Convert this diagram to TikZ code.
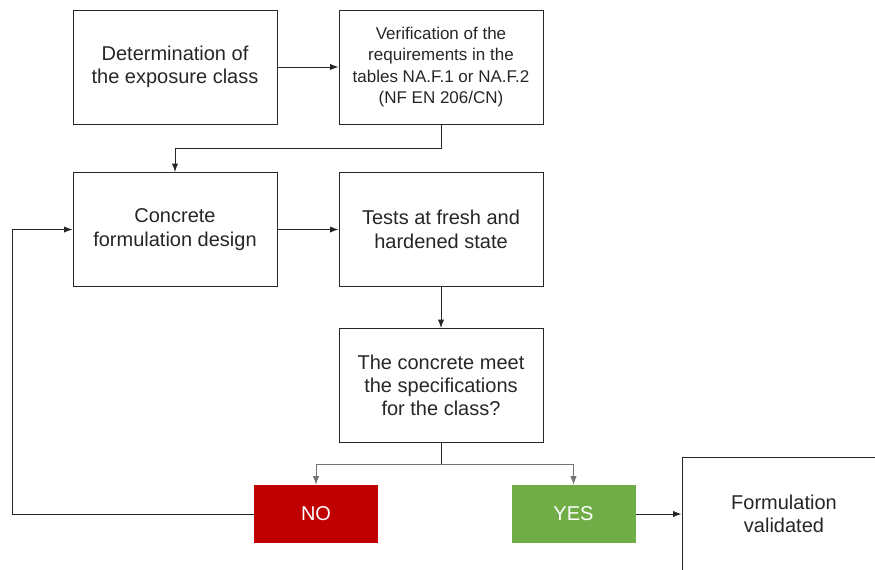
\documentclass[tikz,border=0pt]{standalone}
\usepackage{fontspec}
\setmainfont{Liberation Sans}
\usepackage{xcolor}
\usetikzlibrary{arrows.meta,positioning,calc}
\definecolor{noRed}{HTML}{C00000}
\definecolor{yesGreen}{HTML}{70AD47}
\begin{document}
\begin{tikzpicture}[x=0.75pt,y=-0.75pt,>=Latex,
  stepbox/.style={draw=black!85,line width=0.75pt,minimum width=153pt,minimum height=85.5pt,
    align=center,text=black!85,font=\fontsize{15pt}{17.5pt}\selectfont},
  answer/.style={draw=none,minimum width=93pt,minimum height=43.5pt,text=white,
    font=\fontsize{15pt}{17.5pt}\selectfont},
  link/.style={line width=0.75pt,black!85}]
\clip (0,0) rectangle (875,569);
% Requirements
\node[stepbox] (detexp) at (175,67) {Determination of\\the exposure class};
\node[stepbox,font=\fontsize{12.75pt}{16pt}\selectfont] (verif) at (441,67) {Verification of the\\requirements in the\\tables NA.F.1 or NA.F.2\\(NF EN 206/CN)};
\draw[link,->] (detexp) -- (verif);
% Design and tests
\node[stepbox] (formul) at (175,229.5) {Concrete\\formulation design};
\node[stepbox] (tests) at (441,229.5) {Tests at fresh and\\hardened state};
\draw[link,->] (verif.south) -- ++(0,24) -| (formul.north);
\draw[link,->] (formul) -- (tests);
\node[stepbox] (check) at (441,385.5) {The concrete meet\\the specifications\\for the class?};
\draw[link,->] (tests) -- (check);
% Decision
\node[answer,fill=noRed] (no) at (316,514) {NO};
\node[answer,fill=yesGreen] (yes) at (573.5,514) {YES};
\draw[link] (check.south) -- ++(0,21) coordinate (split);
\draw[link,black!55,->] (split) -| (no.north);
\draw[link,black!55,->] (split) -| (yes.north);
\draw[link,->] (no.west) -- ++(-241,0) |- (formul.west);
\node[stepbox] (valid) at (784,514) {Formulation\\validated};
\draw[link,->] (yes) -- (valid);
\end{tikzpicture}
\end{document}
